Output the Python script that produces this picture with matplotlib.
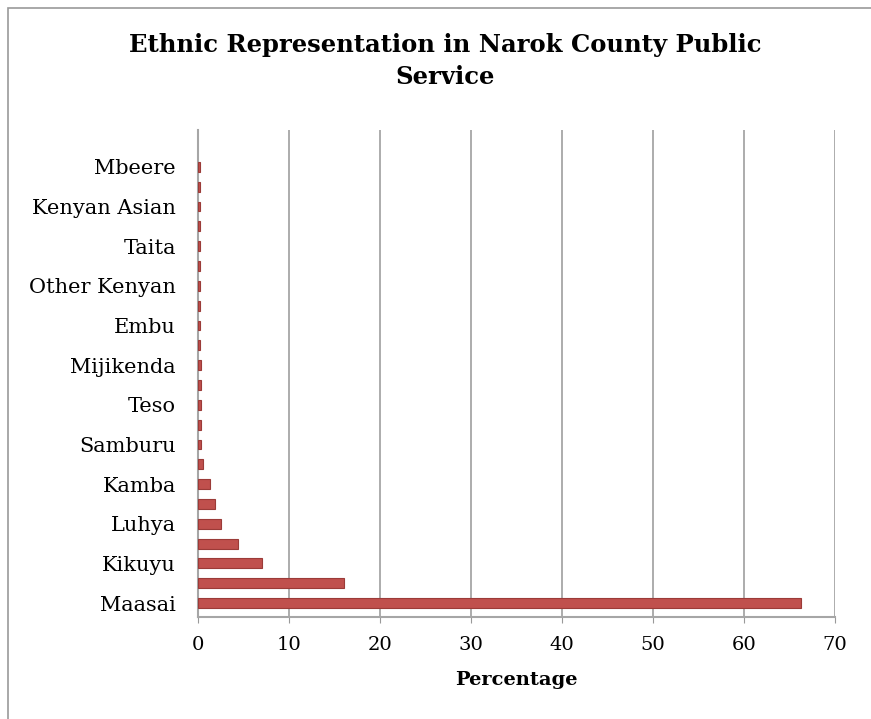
import matplotlib.pyplot as plt
from matplotlib.patches import Rectangle

# categories from bottom (largest) to top; every second one is unlabeled in the source
groups = ["Maasai", "", "Kikuyu", "", "Luhya", "", "Kamba", "", "Samburu", "",
          "Teso", "", "Mijikenda", "", "Embu", "", "Other Kenyan", "", "Taita", "",
          "Kenyan Asian", "", "Mbeere"]
percent = [66.3, 16.1, 7.0, 4.4, 2.5, 1.9, 1.3, 0.6, 0.3, 0.3,
           0.3, 0.3, 0.3, 0.2, 0.2, 0.2, 0.2, 0.2, 0.2, 0.2,
           0.2, 0.2, 0.2]
xticks = [0, 10, 20, 30, 40, 50, 60, 70]

plt.rcParams['font.family'] = ['DejaVu Serif']

fig = plt.figure(figsize=(8.71, 7.19), dpi=100)
# chart frame (only its left and top edges show)
fig.patches.append(Rectangle((0.009, -0.05), 1.1, 1.039, transform=fig.transFigure,
                             fill=False, edgecolor='#999999', linewidth=1.2))
ax = fig.add_axes([0.2273, 0.1419, 0.7313, 0.6773])

pos = list(range(len(groups)))
ax.barh(pos, percent, height=0.5, color='#C0504D', edgecolor='#9B3B38', linewidth=0.8,
        zorder=3)

ax.set_xlim(0, 70)
ax.set_ylim(-0.7, 23.86)
ax.set_xticks(xticks)
ax.set_xticklabels([str(t) for t in xticks], fontsize=14)
ax.set_yticks(pos[::2])
ax.set_yticklabels(groups[::2], fontsize=15)
ax.tick_params(axis='y', length=0, pad=16)
ax.tick_params(axis='x', length=4, color='#999999', pad=10)

ax.grid(axis='x', color='#A6A6A6', linewidth=1.3, zorder=0)
for s in ['top', 'right']:
    ax.spines[s].set_visible(False)
for s in ['left', 'bottom']:
    ax.spines[s].set_color('#A6A6A6')
    ax.spines[s].set_linewidth(1.5)

ax.set_xlabel("Percentage", fontsize=14, fontweight='bold', labelpad=12)
fig.text(0.511, 1 - 45 / 719, "Ethnic Representation in Narok County Public",
         ha='center', va='center', fontsize=17.5, fontweight='bold')
fig.text(0.511, 1 - 77 / 719, "Service",
         ha='center', va='center', fontsize=17.5, fontweight='bold')

fig.savefig("out.png", dpi=100)
